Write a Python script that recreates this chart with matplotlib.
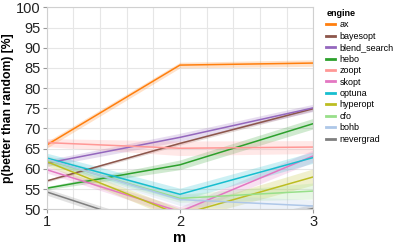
import matplotlib
matplotlib.use("Agg")
import matplotlib.pyplot as plt
import numpy as np

plt.rcParams['font.family'] = ['Liberation Sans', 'DejaVu Sans']

# data
m = [1, 2, 3]
engines = ['ax', 'bayesopt', 'blend_search', 'hebo', 'zoopt', 'skopt',
           'optuna', 'hyperopt', 'cfo', 'bohb', 'nevergrad']
colors = ['#ff7f0e', '#8c564b', '#9467bd', '#2ca02c', '#ff9896', '#e377c2',
          '#17becf', '#bcbd22', '#98df8a', '#aec7e8', '#7f7f7f']

ax_mean = [65.9, 85.7, 86.2]
bayesopt_mean = [57.0, 66.3, 74.9]
blend_search_mean = [61.4, 67.8, 75.1]
hebo_mean = [55.2, 61.0, 71.2]
zoopt_mean = [66.5, 65.1, 65.4]
skopt_mean = [59.8, 49.4, 63.2]
optuna_mean = [62.7, 53.7, 62.8]
hyperopt_mean = [61.8, 48.6, 58.0]
cfo_mean = [62.2, 52.7, 54.5]
bohb_mean = [62.4, 52.4, 50.8]
nevergrad_mean = [54.3, 43.5, 50.2]

ax_ci = [0.8, 0.7, 0.8]
bayesopt_ci = [0.3, 0.4, 0.5]
blend_search_ci = [0.8, 1.0, 0.9]
hebo_ci = [0.4, 1.2, 1.3]
zoopt_ci = [1.0, 1.8, 1.6]
skopt_ci = [0.8, 1.2, 1.5]
optuna_ci = [1.2, 1.5, 1.4]
hyperopt_ci = [1.0, 1.5, 2.0]
cfo_ci = [1.0, 1.0, 2.0]
bohb_ci = [1.0, 1.5, 1.5]
nevergrad_ci = [0.8, 1.0, 1.0]

means = [ax_mean, bayesopt_mean, blend_search_mean, hebo_mean, zoopt_mean,
         skopt_mean, optuna_mean, hyperopt_mean, cfo_mean, bohb_mean,
         nevergrad_mean]
cis = [ax_ci, bayesopt_ci, blend_search_ci, hebo_ci, zoopt_ci, skopt_ci,
       optuna_ci, hyperopt_ci, cfo_ci, bohb_ci, nevergrad_ci]

fig = plt.figure(figsize=(3.95, 2.45), dpi=100)
ax = fig.add_axes([0.118, 0.146, 0.675, 0.824])

for name, col, mu, ci in zip(engines, colors, means, cis):
    mu = np.array(mu)
    ci = np.array(ci)
    ax.fill_between(m, mu - ci, mu + ci, color=col, alpha=0.22, lw=0)
    ax.plot(m, mu, color=col, lw=1.1, label=name)

ax.set_xlim(1, 3)
ax.set_ylim(50, 100)
ax.set_xticks([1, 2, 3])
ax.set_xticks(np.arange(1, 3.01, 0.2), minor=True)
ax.set_yticks(np.arange(50, 101, 5))
ax.grid(True, which='both', color='#e6e6e6', lw=0.8)
ax.set_axisbelow(True)
for s in ax.spines.values():
    s.set_color('#d0d0d0')
    s.set_linewidth(0.8)
ax.tick_params(which='major', length=3, color='#999999', labelsize=10.5,
               pad=1.5, labelcolor='#222222')
ax.tick_params(which='minor', length=0)
ax.set_xlabel('m', fontsize=10.5, fontweight='bold', labelpad=1)
ax.set_ylabel('p(better than random) [%]', fontsize=8.8, fontweight='bold',
              labelpad=1)

leg = ax.legend(loc='upper left', bbox_to_anchor=(1.035, 1.01), frameon=False,
                title='engine', fontsize=6.5, handlelength=1.0,
                handletextpad=0.45, labelspacing=0.27, borderaxespad=0)
leg.get_title().set_fontweight('bold')
leg.get_title().set_fontsize(6.5)
leg._legend_box.align = 'left'
for line in leg.get_lines():
    line.set_linewidth(2)

fig.savefig('out.png', dpi=100)
